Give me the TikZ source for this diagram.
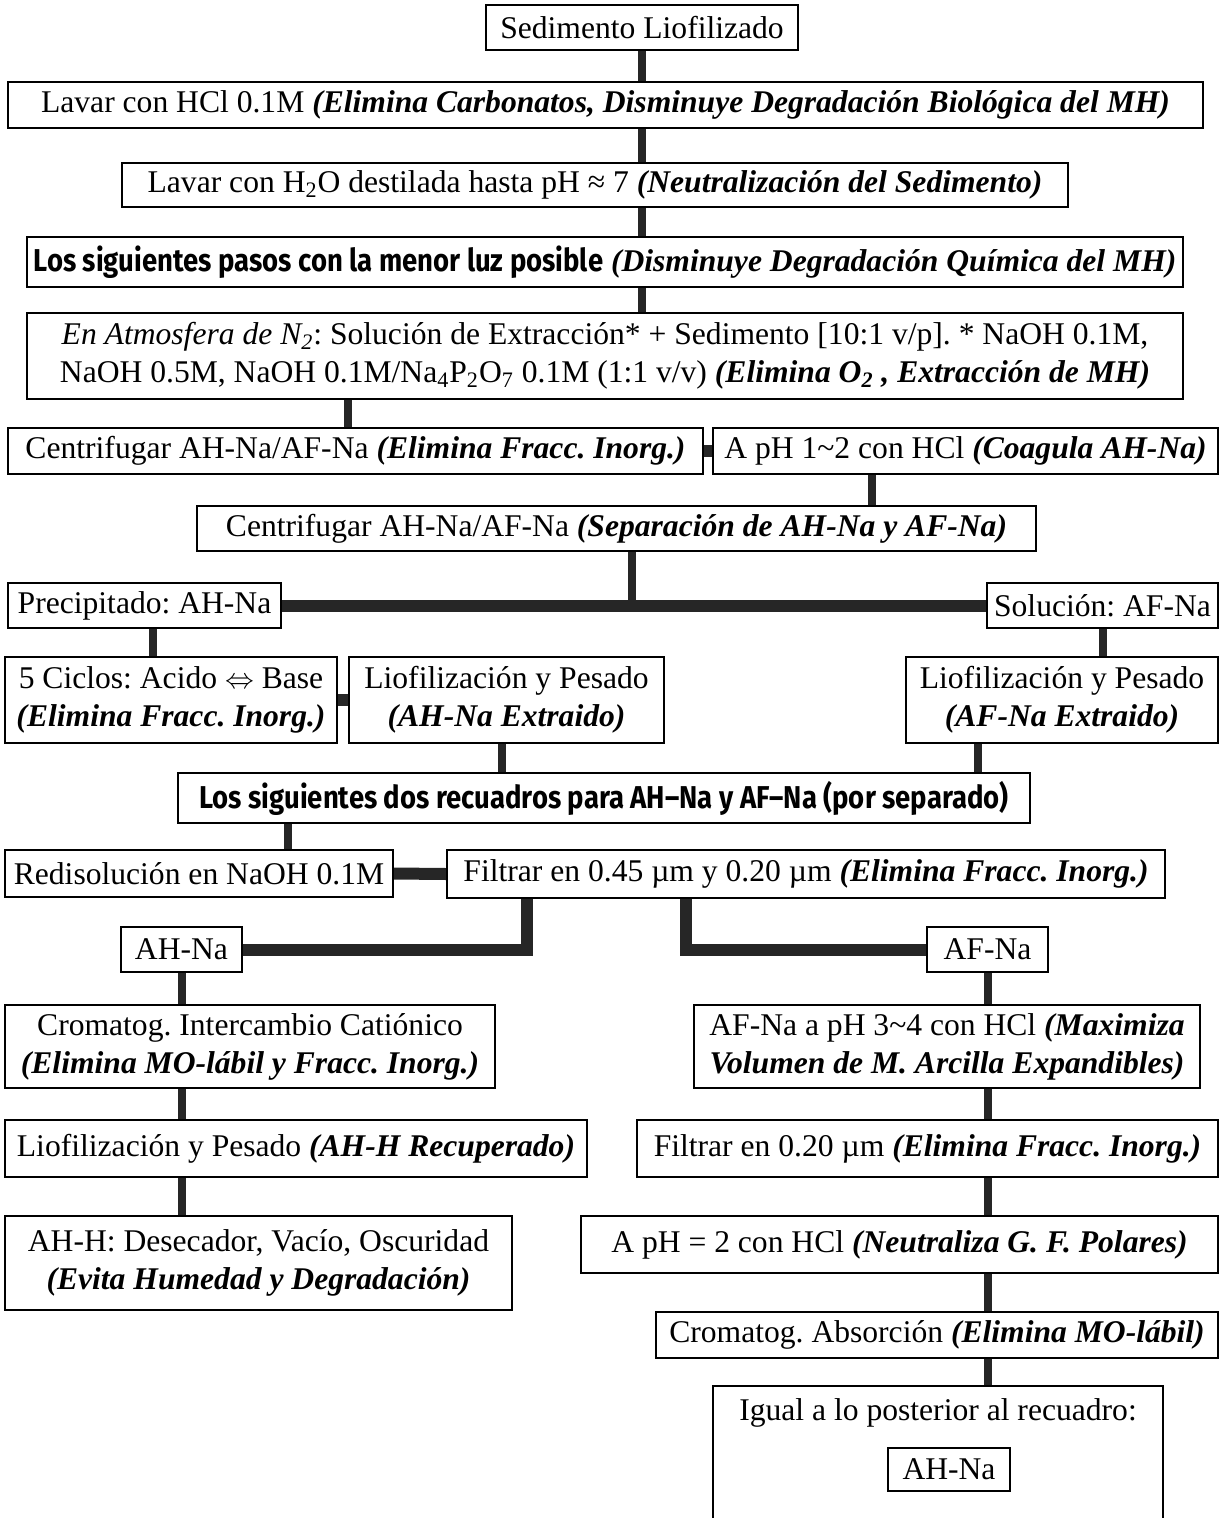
\documentclass[tikz,border=0pt]{standalone}
\usepackage{fontspec}
\setmainfont{Liberation Serif}
\newfontfamily\deco[FakeStretch=0.87]{Fira Sans}
\usetikzlibrary{calc}
\frenchspacing
\newcommand\bi[1]{\textbf{\textit{#1}}}
\newcommand\dc[1]{{\deco\bfseries #1}}
\begin{document}
\begin{tikzpicture}[x=0.5pt,y=-0.5pt,
  box/.style={draw=black, line width=1.1pt, inner sep=0pt, align=center, font=\fontsize{15.8}{19}\selectfont},
  sz/.style 2 args={minimum width=#1*0.5pt, minimum height=#2*0.5pt},
  conn/.style={draw=black!85, line width=4pt},
  bar/.style={draw=black!85, line width=6pt}]
\useasboundingbox (0,0) rectangle (1220,1518);
% boxes
\node[box, sz={312}{45}] (n1) at (642,27.5) {Sedimento Liofilizado};
\node[box, sz={1195}{46}] (n2) at (605.5,105) {Lavar con HCl 0.1M \bi{(Elimina Carbonatos, Disminuye Degradación Biológica del MH)}};
\node[box, sz={946}{44}] (n3) at (595,185) {Lavar con H\textsubscript{2}O destilada hasta pH ≈ 7 \bi{(Neutralización del Sedimento)}};
\node[box, sz={1156}{50}] (n4) at (605,262) {\dc{Los siguientes pasos con la menor luz posible} \bi{(Disminuye Degradación Química del MH)}};
\node[box, sz={1156}{86}] (n5) at (605,356) {\textit{En Atmosfera de N\textsubscript{2}}: Solución de Extracción* + Sedimento [10:1 v/p]. * NaOH 0.1M,\\NaOH 0.5M, NaOH 0.1M/Na\textsubscript{4}P\textsubscript{2}O\textsubscript{7} 0.1M (1:1 v/v) \bi{(Elimina O\textsubscript{2} , Extracción de MH)}};
\node[box, sz={695}{46}] (n6) at (355.5,451) {Centrifugar AH-Na/AF-Na \bi{(Elimina Fracc. Inorg.)}};
\node[box, sz={505}{46}] (n7) at (965.5,451) {A pH 1\textasciitilde 2 con HCl \bi{(Coagula AH-Na)}};
\node[box, sz={839}{45}] (n8) at (616.5,528.5) {Centrifugar AH-Na/AF-Na \bi{(Separación de AH-Na y AF-Na)}};
\node[box, sz={273}{45}] (n9) at (144.5,605.5) {Precipitado: AH-Na};
\node[box, sz={231}{45}] (n10) at (1102.5,605.5) {Solución: AF-Na};
\node[box, sz={332}{86}] (n11) at (171,700) {5 Ciclos: Acido $\Leftrightarrow$ Base\\\bi{(Elimina Fracc. Inorg.)}};
\node[box, sz={315}{86}] (n12) at (506.5,700) {Liofilización y Pesado\\\bi{(AH-Na Extraido)}};
\node[box, sz={312}{86}] (n13) at (1062,700) {Liofilización y Pesado\\\bi{(AF-Na Extraido)}};
\node[box, sz={852}{50}] (n14) at (604,798) {\dc{Los siguientes dos recuadros para AH–Na y AF–Na (por separado)}};
\node[box, sz={388}{47}] (n15) at (199,873.5) {Redisolución en NaOH 0.1M};
\node[box, sz={718}{48}] (n16) at (806,874) {Filtrar en 0.45 µm y 0.20 µm \bi{(Elimina Fracc. Inorg.)}};
\node[box, sz={121}{45}] (n17) at (181.5,949.5) {AH-Na};
\node[box, sz={121}{45}] (n18) at (987.5,949.5) {AF-Na};
\node[box, sz={490}{83}] (n19) at (250,1046.5) {Cromatog. Intercambio Catiónico\\\bi{(Elimina MO-lábil y Fracc. Inorg.)}};
\node[box, sz={506}{83}] (n20) at (947,1046.5) {AF-Na a pH 3\textasciitilde 4 con HCl \bi{(Maximiza}\\\bi{Volumen de M. Arcilla Expandibles)}};
\node[box, sz={582}{57}] (n21) at (296,1148.5) {Liofilización y Pesado \bi{(AH-H Recuperado)}};
\node[box, sz={581}{57}] (n22) at (927.5,1148.5) {Filtrar en 0.20 µm \bi{(Elimina Fracc. Inorg.)}};
\node[box, sz={507}{94}] (n23) at (258.5,1263) {AH-H: Desecador, Vacío, Oscuridad\\\bi{(Evita Humedad y Degradación)}};
\node[box, sz={637}{57}] (n24) at (899.5,1244.5) {A pH = 2 con HCl \bi{(Neutraliza G. F. Polares)}};
\node[box, sz={562}{46}] (n25) at (937,1335) {Cromatog. Absorción \bi{(Elimina MO-lábil)}};
\node[box, sz={450}{168}] (n26) at (938,1470) {};
\node[font=\fontsize{15.8}{19}\selectfont, inner sep=0pt] (n26t) at (938,1413) {Igual a lo posterior al recuadro:};
\node[box, sz={122}{43}] (n27) at (949,1469.5) {AH-Na};
% connectors
\draw[conn] (n1.south) -- (n1.south |- n2.north);
\draw[conn] (n1.south |- n2.south) -- (n1.south |- n3.north);
\draw[conn] (n1.south |- n3.south) -- (n1.south |- n4.north);
\draw[conn] (n1.south |- n4.south) -- (n1.south |- n5.north);
\draw[conn] ([xshift=-3.75pt]n6.north) -- ([xshift=-3.75pt]n6.north |- n5.south);
\draw[bar] (n6.east) -- (n7.west);
\draw[conn] ([xshift=-46.75pt]n7.south) -- ([xshift=-46.75pt]n7.south |- n8.north);
\draw[conn] ([xshift=7.75pt]n8.south) -- ([xshift=7.75pt]n8.south |- n9.east);
\draw[bar] (n9.east) -- (n10.west);
\draw[conn] ([xshift=4.25pt]n9.south) -- ([xshift=4.25pt]n9.south |- n11.north);
\draw[bar] (n11.east) -- (n12.west);
\draw[conn] (n10.south) -- (n10.south |- n13.north);
\draw[conn] ([xshift=-2.25pt]n12.south) -- ([xshift=-2.25pt]n12.south |- n14.north);
\draw[conn] ([xshift=-42pt]n13.south) -- ([xshift=-42pt]n13.south |- n14.north);
\draw[conn] ([xshift=44.5pt]n15.north) -- ([xshift=44.5pt]n15.north |- n14.south);
\draw[bar] (n15.east) -- (n16.west);
\draw[bar] ([xshift=-139.5pt]n16.south) |- (n17.east);
\draw[bar] ([xshift=-60pt]n16.south) |- (n18.west);
\draw[conn] (n17.south) -- (n17.south |- n19.north);
\draw[conn] (n17.south |- n19.south) -- (n17.south |- n21.north);
\draw[conn] (n17.south |- n21.south) -- (n17.south |- n23.north);
\draw[conn] (n18.south) -- (n18.south |- n20.north);
\draw[conn] (n18.south |- n20.south) -- (n18.south |- n22.north);
\draw[conn] (n18.south |- n22.south) -- (n18.south |- n24.north);
\draw[conn] (n18.south |- n24.south) -- (n18.south |- n25.north);
\draw[conn] (n18.south |- n25.south) -- (n18.south |- n26.north);
\end{tikzpicture}
\end{document}
